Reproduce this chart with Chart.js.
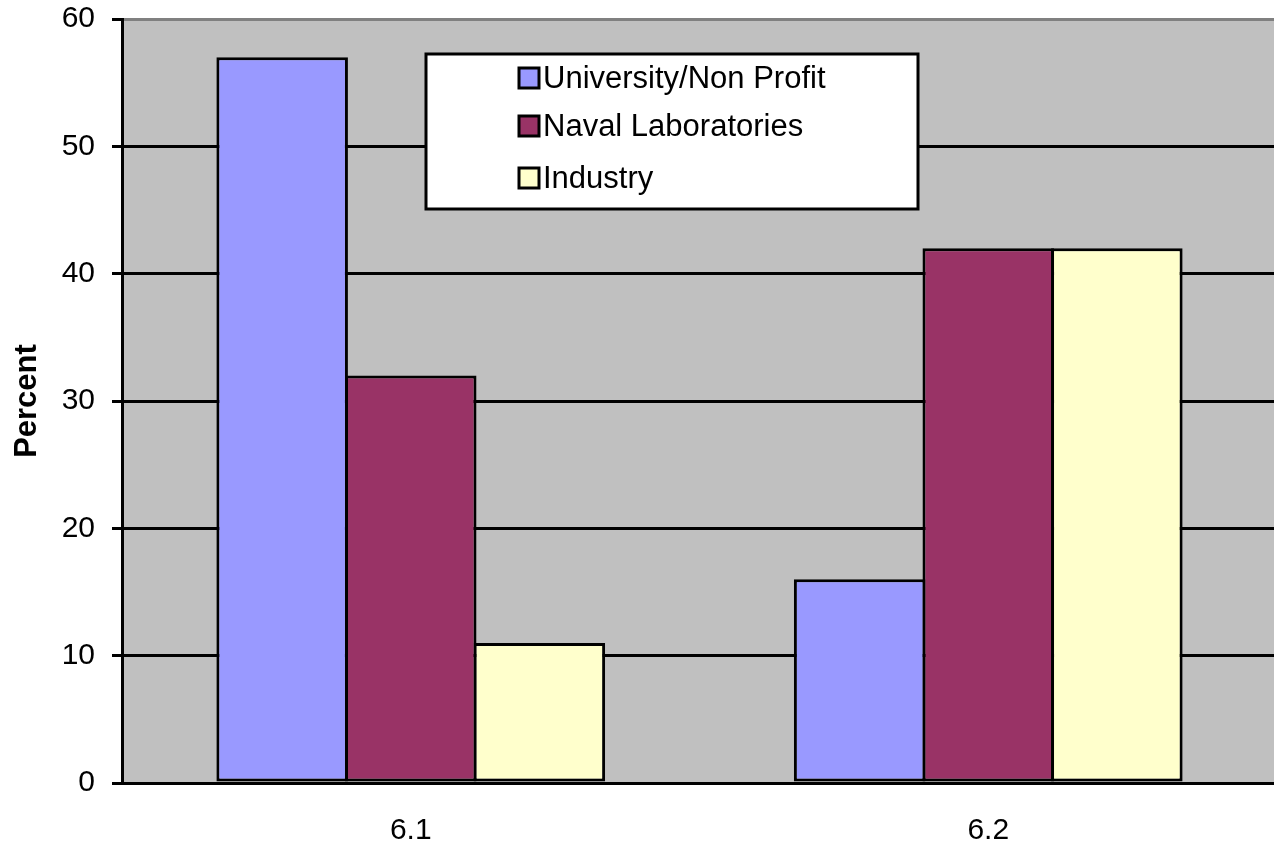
<!DOCTYPE html>
<html>
<head>
<meta charset="utf-8">
<title>Percent by performer</title>
<script src="https://cdn.jsdelivr.net/npm/chart.js@4/dist/chart.umd.min.js"></script>
<style>
  html, body { margin: 0; padding: 0; background: #ffffff; overflow: hidden; }
  #wrap { width: 1274px; height: 844px; overflow: hidden; }
  canvas { display: block; }
</style>
</head>
<body>
<div id="wrap"><canvas id="chart" width="1280" height="844"></canvas></div>
<script>
// Budget categories and the share (percent) going to each performer type
const categories = ['6.1', '6.2'];
const universityNonProfit = [57, 16];
const navalLaboratories = [32, 42];
const industry = [11, 42];
const yTicks = [0, 10, 20, 30, 40, 50, 60];

const FONT = "'Liberation Sans', Arial, sans-serif";

// Gray plot background
const plotBackground = {
  id: 'plotBackground',
  beforeDraw(chart) {
    const { ctx, chartArea: a } = chart;
    ctx.save();
    ctx.fillStyle = '#C0C0C0';
    ctx.fillRect(a.left, a.top, a.right - a.left, a.bottom - a.top);
    ctx.restore();
  }
};

// Boxed legend drawn inside the plot
const boxedLegend = {
  id: 'boxedLegend',
  afterDraw(chart, args, opts) {
    const { ctx } = chart;
    ctx.save();
    ctx.fillStyle = '#ffffff';
    ctx.fillRect(opts.x, opts.y, opts.w, opts.h);
    ctx.lineWidth = 3;
    ctx.strokeStyle = '#000000';
    ctx.strokeRect(opts.x, opts.y, opts.w, opts.h);
    ctx.font = opts.fontSize + 'px ' + FONT;
    ctx.textBaseline = 'middle';
    ctx.textAlign = 'left';
    chart.data.datasets.forEach((ds, i) => {
      const cy = opts.rows[i];
      const s = opts.swatch;
      ctx.fillStyle = ds.backgroundColor;
      ctx.fillRect(opts.swatchX, cy - s / 2, s, s);
      ctx.lineWidth = 3;
      ctx.strokeStyle = '#000000';
      ctx.strokeRect(opts.swatchX, cy - s / 2, s, s);
      ctx.fillStyle = '#000000';
      ctx.fillText(ds.label, opts.swatchX + s + 4, cy + 1);
    });
    ctx.restore();
  }
};

new Chart(document.getElementById('chart'), {
  type: 'bar',
  data: {
    labels: categories,
    datasets: [
      { label: 'University/Non Profit', data: universityNonProfit, backgroundColor: '#9999FF' },
      { label: 'Naval Laboratories', data: navalLaboratories, backgroundColor: '#993366' },
      { label: 'Industry', data: industry, backgroundColor: '#FFFFCC' }
    ]
  },
  options: {
    responsive: false,
    devicePixelRatio: 1,
    animation: false,
    layout: { padding: { top: 19, right: 3, left: 0, bottom: 0 } },
    datasets: {
      bar: {
        // slightly wider than the slot so neighbouring outlines share one line
        barPercentage: 1.023,
        categoryPercentage: 0.668,
        borderColor: '#000000',
        borderWidth: 3,
        borderSkipped: false
      }
    },
    plugins: {
      legend: { display: false },
      tooltip: { enabled: false },
      boxedLegend: { x: 426, y: 54, w: 492, h: 155, swatchX: 519, swatch: 20, rows: [78, 126, 178], fontSize: 31 }
    },
    scales: {
      x: {
        afterFit(scale) { scale.height = 61; scale.paddingLeft = 0; scale.paddingRight = 0; },
        grid: { display: false, drawTicks: false },
        border: { display: true, color: '#000000', width: 3, z: 1 },
        ticks: { color: '#000000', font: { family: FONT, size: 30 }, padding: 30 }
      },
      y: {
        min: 0,
        max: 60,
        afterFit(scale) { scale.width = 122; scale.paddingTop = 0; scale.paddingBottom = 0; },
        afterBuildTicks(scale) { scale.ticks = yTicks.map(v => ({ value: v })); },
        grid: {
          color: c => (c.tick && c.tick.value === 60 ? '#808080' : '#000000'),
          lineWidth: 3,
          tickLength: 10,
          tickColor: '#000000',
          tickWidth: 3
        },
        border: { display: true, color: '#000000', width: 3, z: 1 },
        ticks: { color: '#000000', font: { family: FONT, size: 30 }, padding: 17 },
        title: {
          display: true,
          text: 'Percent',
          color: '#000000',
          font: { family: FONT, size: 31, weight: 'bold' },
          padding: { top: 9, bottom: 0 }
        }
      }
    }
  },
  plugins: [plotBackground, boxedLegend]
});
</script>
</body>
</html>
